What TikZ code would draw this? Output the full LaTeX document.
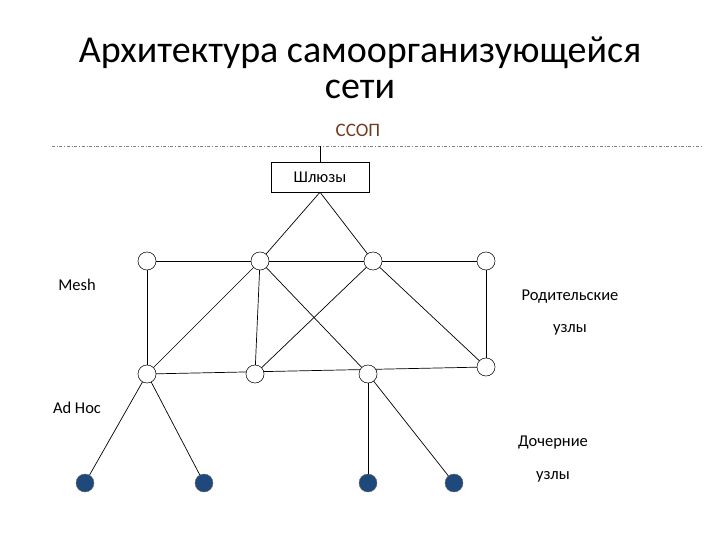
\documentclass[tikz,border=0pt]{standalone}
\usepackage{fontspec}
\setmainfont{Carlito}
\begin{document}
\begin{tikzpicture}[x=1pt,y=-1pt,
  hub/.style={circle,draw,fill=white,minimum size=18pt,inner sep=0pt},
  leaf/.style={circle,draw=black!60,fill={rgb,255:red,31;green,73;blue,125},minimum size=18pt,inner sep=0pt},
  lbl/.style={font=\fontsize{16.5}{18}\selectfont},
  ln/.style={draw,line width=0.7pt}]
\useasboundingbox (0,0) rectangle (720,540);
\node[font=\fontsize{38}{38}\selectfont,align=center] (title) at (360,68) {Архитектура самоорганизующейся\\[-2pt]сети};
\node[font=\fontsize{19}{21}\selectfont,text={rgb,255:red,110;green,60;blue,30}] (ssop) at (358,130) {ССОП};
\coordinate (dl) at (52,146); \coordinate (dr) at (702,146); \coordinate (dm) at (320,146);
\draw[gray,dash dot,line width=0.8pt] (dl) -- (dr);
\node[draw,minimum width=98pt,minimum height=30pt,lbl] (gw) at (320,177) {Шлюзы};
\draw[ln] (dm) -- (gw.north);
\node[hub] (t1) at (147,261) {}; \node[hub] (t2) at (260,261) {};
\node[hub] (t3) at (373,261) {}; \node[hub] (t4) at (486,261) {};
\node[hub] (b1) at (147,374) {}; \node[hub] (b2) at (255,374) {};
\node[hub] (b3) at (368,374) {}; \node[hub] (b4) at (486,367) {};
\draw[ln] (t1.center) -- (t4.center);
\draw[ln] (b1.center) -- (b4.center);
\draw[ln] (t1.center) -- (b1.center);
\draw[ln] (t2.center) -- (b2.center);
\draw[ln] (t4.center) -- (b4.center);
\draw[ln] (t2.center) -- (b1.center);
\draw[ln] (t2.center) -- (b3.center);
\draw[ln] (t3.center) -- (b2.center);
\draw[ln] (t3.center) -- (b4.center);
\draw[ln] (gw.south) -- (t2.center);
\draw[ln] (gw.south) -- (t3.center);
\foreach \n in {t1,t2,t3,t4,b1,b2,b3,b4} \node[hub] at (\n) {};
\node[leaf] (c1) at (85,483) {}; \node[leaf] (c2) at (204,483) {};
\node[leaf] (c3) at (368,483) {}; \node[leaf] (c4) at (454,483) {};
\draw[ln] (b1) -- (c1); \draw[ln] (b1) -- (c2);
\draw[ln] (b3) -- (c3); \draw[ln] (b3) -- (c4);
\node[lbl] (mesh) at (77,285) {Mesh};
\node[lbl] (par1) at (570,297) {Родительские};
\node[lbl] (par2) at (570,330) {узлы};
\node[lbl] (adhoc) at (77,408) {Ad Hoc};
\node[lbl] (ch1) at (553,443) {Дочерние};
\node[lbl] (ch2) at (553,477) {узлы};
\end{tikzpicture}
\end{document}
